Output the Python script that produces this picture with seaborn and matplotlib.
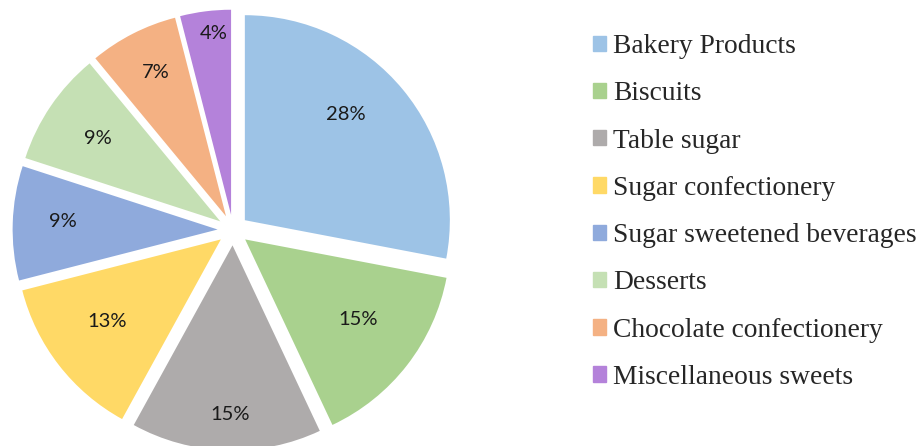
import numpy as np
import matplotlib
matplotlib.use("Agg")
import matplotlib.pyplot as plt
import seaborn as sns

categories = ["Bakery Products", "Biscuits", "Table sugar", "Sugar confectionery",
              "Sugar sweetened beverages", "Desserts", "Chocolate confectionery",
              "Miscellaneous sweets"]
shares = [28, 15, 15, 13, 9, 9, 7, 4]
colors = ["#9DC3E6", "#A9D18E", "#AEABAB", "#FFD966",
          "#8FAADC", "#C5E0B4", "#F4B183", "#B482DA"]
# distance of each percentage label from the pie centre (data units)
label_r = [0.79, 0.75, 0.90, 0.76, 0.83, 0.795, 0.855, 0.965]
label_dang = [6, 2, 1, -2, -1, 0, -1, -1.5]

sns.set_theme(style="white")
plt.rcParams["font.family"] = ["Lato", "DejaVu Sans"]

W, H = 919, 446
fig = plt.figure(figsize=(W / 100, H / 100), dpi=100)
scale = 205.0          # px per data unit
cx, cy = 233, 230      # pie centre in px (from top-left)
ax_w = 466
ax = fig.add_axes([0, 0, ax_w / W, 1])
palette = sns.color_palette(colors)
explode = 0.075
wedges, texts = ax.pie(shares, colors=palette, startangle=90, counterclock=False,
                       explode=[explode] * len(shares), radius=1.0,
                       wedgeprops=dict(linewidth=0))
ax.set_aspect("auto")
ax.set_xlim(-cx / scale, (ax_w - cx) / scale)
ax.set_ylim(-(H - cy) / scale, cy / scale)
ax.axis("off")

for w, r, da, v in zip(wedges, label_r, label_dang, shares):
    ang = np.deg2rad((w.theta1 + w.theta2) / 2 + da)
    ax.text(r * np.cos(ang), r * np.sin(ang), f"{v}%",
            ha="center", va="center", fontsize=14.5, color="#1a1a1a")

handles = [plt.Rectangle((0, 0), 1, 1, color=c) for c in palette]
fig.legend(handles, categories, loc="upper left",
           bbox_to_anchor=(593 / W, 1 - 34 / H), frameon=False,
           prop=dict(family="Liberation Serif", size=19.8),
           handlelength=0.48, handleheight=0.48, handletextpad=0.25,
           labelspacing=0.81, borderpad=0, borderaxespad=0)

fig.savefig("out.png", dpi=100)
